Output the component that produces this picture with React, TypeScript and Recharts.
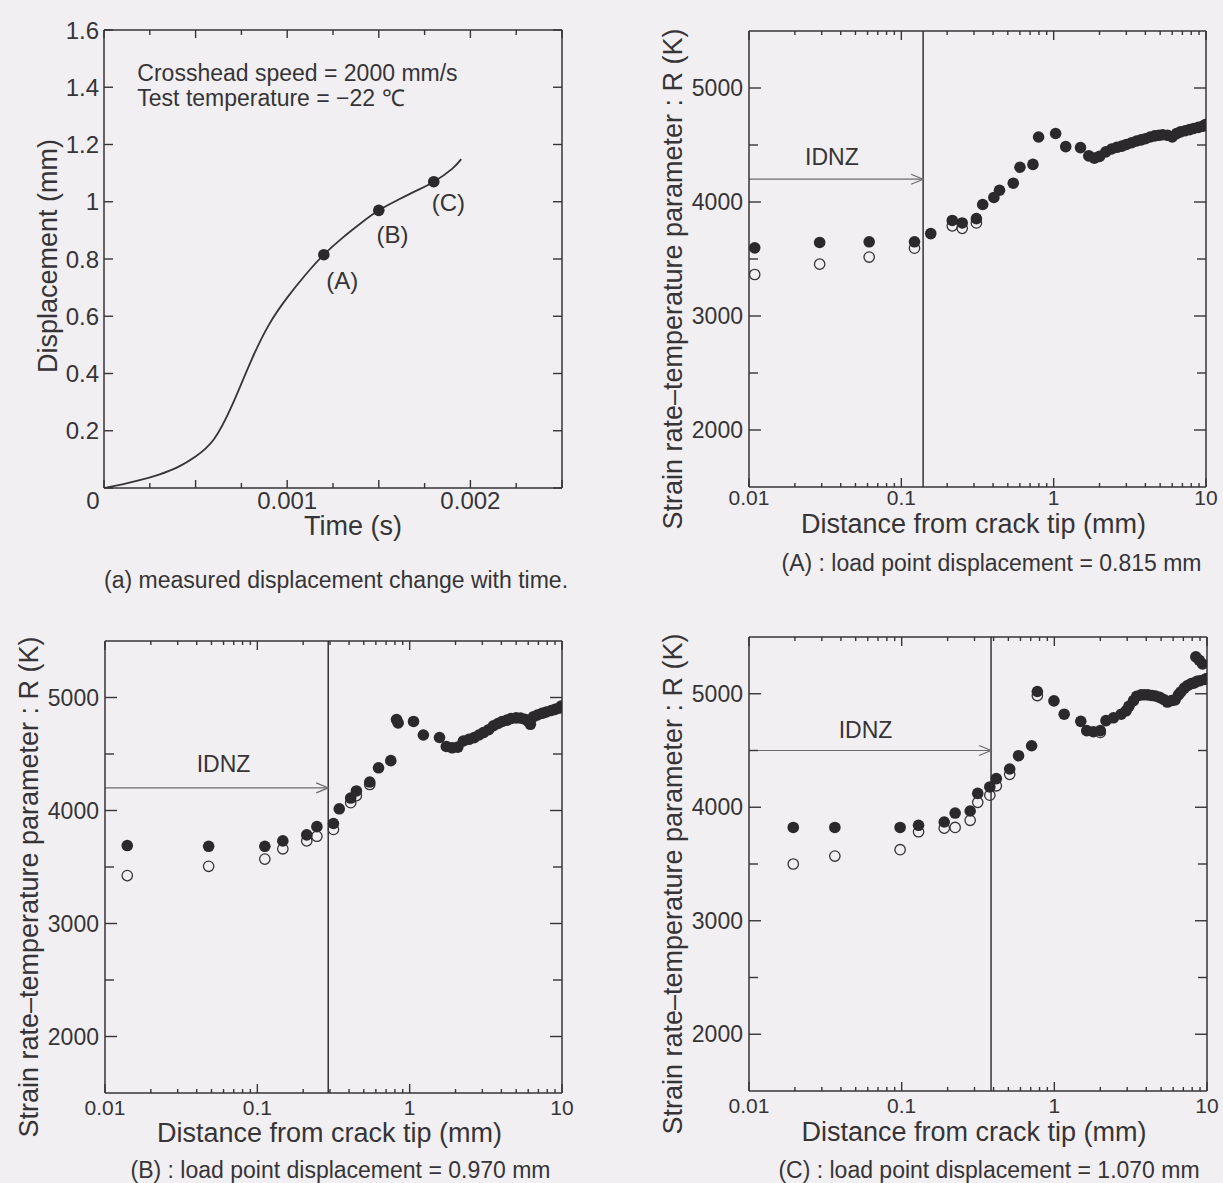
import React from 'react';
import {
  ComposedChart,
  ScatterChart,
  Scatter,
  Line,
  XAxis,
  YAxis,
  ReferenceLine,
  ReferenceDot,
} from 'recharts';

const INK = '#363436';
const DOT = '#2b292b';
const ARROW = '#6c6a6c';
const PAGE = '#f1eff2';
const FONT = '"Liberation Sans", Arial, Helvetica, sans-serif';

// (a) measured load point displacement against time
const timeSec = [0, 0.0001, 0.0002, 0.0003, 0.0004, 0.0005, 0.0006, 0.0007, 0.0008, 0.0009, 0.001, 0.0011, 0.0012, 0.0013, 0.0014, 0.0015, 0.0016, 0.0017, 0.0018, 0.0019, 0.00195];
const dispMm = [0, 0.013, 0.028, 0.047, 0.072, 0.11, 0.17, 0.29, 0.44, 0.57, 0.665, 0.745, 0.815, 0.873, 0.924, 0.97, 1.005, 1.037, 1.07, 1.115, 1.149];
const markNames = ['(A)', '(B)', '(C)'];
const markTime = [0.0012, 0.0015, 0.0018];
const markDisp = [0.815, 0.97, 1.07];
const markLabelTime = [0.0013, 0.001575, 0.00188];
const markLabelDisp = [0.725, 0.886, 0.999];
const notes = ['Crosshead speed = 2000 mm/s', 'Test temperature = \u221222 \u2103'];
const noteTime = 0.000182;
const noteDisp = [1.451, 1.362];

const timeTicks = [0, 0.00025, 0.0005, 0.00075, 0.001, 0.00125, 0.0015, 0.00175, 0.002, 0.00225, 0.0025];
const timeMajor = [0, 0.0005, 0.001, 0.0015, 0.002, 0.0025];
const timeLabels = [0, 0.001, 0.002];
const dispTicks = [0, 0.2, 0.4, 0.6, 0.8, 1, 1.2, 1.4, 1.6];

// R profiles ahead of the crack tip
const distTicks = [
  0.01, 0.02, 0.03, 0.04, 0.05, 0.06, 0.07, 0.08, 0.09,
  0.1, 0.2, 0.3, 0.4, 0.5, 0.6, 0.7, 0.8, 0.9,
  1, 2, 3, 4, 5, 6, 7, 8, 9, 10,
];
const rTicks = [2000, 2500, 3000, 3500, 4000, 4500, 5000];
const rLabels = [2000, 3000, 4000, 5000];

// (A) 0.815 mm
const distA = [0.0109, 0.0291, 0.0615, 0.122, 0.156, 0.216, 0.251, 0.311, 0.342, 0.405, 0.441, 0.543, 0.601, 0.731, 0.796, 1.03, 1.2, 1.5, 1.7, 1.85, 2.0, 2.2, 2.4, 2.6, 2.8, 3.0, 3.25, 3.5, 3.75, 4.0, 4.3, 4.6, 4.9, 5.2, 5.6, 6.0, 6.4, 6.8, 7.3, 7.8, 8.3, 8.9, 9.5, 9.9];
const rFilledA = [3598, 3645, 3651, 3651, 3723, 3838, 3816, 3854, 3978, 4040, 4103, 4165, 4305, 4330, 4570, 4601, 4486, 4477, 4405, 4385, 4400, 4440, 4465, 4480, 4490, 4505, 4520, 4535, 4545, 4555, 4570, 4580, 4585, 4590, 4585, 4570, 4600, 4615, 4625, 4635, 4645, 4655, 4665, 4680];
const openDistA = [0.0109, 0.0291, 0.0615, 0.122, 0.216, 0.251, 0.311];
const rOpenA = [3364, 3455, 3517, 3595, 3791, 3769, 3816];

// (B) 0.970 mm
const distB = [0.014, 0.0479, 0.112, 0.147, 0.211, 0.246, 0.316, 0.345, 0.41, 0.447, 0.547, 0.625, 0.752, 0.82, 0.84, 1.06, 1.23, 1.57, 1.74, 1.9, 2.07, 2.25, 2.45, 2.65, 2.85, 3.05, 3.3, 3.55, 3.8, 4.05, 4.35, 4.65, 5.0, 5.35, 5.7, 6.0, 6.2, 6.5, 6.9, 7.4, 7.9, 8.5, 9.0, 9.5, 9.9];
const rFilledB = [3690, 3683, 3683, 3731, 3784, 3857, 3885, 4015, 4110, 4173, 4252, 4378, 4441, 4805, 4775, 4788, 4668, 4646, 4567, 4555, 4561, 4615, 4630, 4645, 4668, 4690, 4715, 4750, 4770, 4788, 4800, 4814, 4820, 4818, 4808, 4790, 4763, 4830, 4845, 4860, 4872, 4885, 4895, 4905, 4925];
const openDistB = [0.014, 0.0479, 0.112, 0.147, 0.211, 0.246, 0.316, 0.41, 0.447, 0.547];
const rOpenB = [3424, 3506, 3570, 3661, 3731, 3772, 3832, 4069, 4132, 4230];

// (C) 1.070 mm
const distC = [0.0195, 0.0365, 0.0977, 0.129, 0.19, 0.224, 0.281, 0.315, 0.378, 0.417, 0.51, 0.583, 0.71, 0.774, 0.994, 1.16, 1.49, 1.63, 1.8, 2.0, 2.18, 2.44, 2.74, 2.95, 3.08, 3.3, 3.46, 3.7, 3.88, 4.1, 4.36, 4.6, 4.9, 5.2, 5.5, 5.85, 6.18, 6.5, 6.74, 7.1, 7.48, 7.9, 8.26, 8.6, 9.0, 9.66, 9.95, 8.45, 8.9, 9.35];
const rFilledC = [3822, 3822, 3822, 3841, 3870, 3949, 3967, 4122, 4179, 4252, 4337, 4454, 4542, 5020, 4937, 4820, 4757, 4675, 4665, 4675, 4763, 4788, 4820, 4850, 4889, 4940, 4978, 4990, 4991, 4990, 4984, 4980, 4968, 4950, 4927, 4940, 4946, 4990, 5016, 5050, 5073, 5090, 5095, 5110, 5115, 5126, 5135, 5325, 5295, 5262];
const openDistC = [0.0195, 0.0365, 0.0977, 0.129, 0.19, 0.224, 0.281, 0.315, 0.378, 0.417, 0.51, 0.774, 2.0];
const rOpenC = [3500, 3570, 3626, 3784, 3816, 3822, 3885, 4043, 4106, 4189, 4290, 4984, 4659];

type Side = 'bottom' | 'top' | 'left' | 'right';

interface TickSpec {
  side: Side;
  isMajor: (v: number) => boolean;
  text?: (v: number) => string;
  long: number;
  short: number;
  gap?: number;
  zeroShift?: number;
  fontSize?: number;
}

// tickSize/tickMargin are 0, so x/y arrive on the axis line itself
const makeTick = (s: TickSpec) => (props: any) => {
  const { x, y, payload } = props;
  const v = payload.value as number;
  const len = s.isMajor(v) ? s.long : s.short;
  const lbl = s.text ? s.text(v) : '';
  let l = [x, y, x, y];
  if (s.side === 'bottom') l = [x, y, x, y - len];
  if (s.side === 'top') l = [x, y, x, y + len];
  if (s.side === 'left') l = [x, y, x + len, y];
  if (s.side === 'right') l = [x, y, x - len, y];
  return (
    <g>
      <line x1={l[0]} y1={l[1]} x2={l[2]} y2={l[3]} stroke={INK} strokeWidth={1.4} />
      {lbl && s.side === 'bottom' && (
        <text
          x={x + (v === 0 ? s.zeroShift ?? 0 : 0)}
          y={y + (s.gap ?? 12)}
          textAnchor="middle"
          dominantBaseline="central"
          fontSize={s.fontSize ?? 24}
          fill={INK}
        >
          {lbl}
        </text>
      )}
      {lbl && s.side === 'left' && (
        <text
          x={x - (s.gap ?? 5)}
          y={y}
          textAnchor="end"
          dominantBaseline="central"
          fontSize={s.fontSize ?? 24}
          fill={INK}
        >
          {lbl}
        </text>
      )}
    </g>
  );
};

const axisStyle = { stroke: INK, strokeWidth: 1.5 };
const isDecade = (v: number) => Math.abs(Math.log10(v) - Math.round(Math.log10(v))) < 1e-6;
const inList = (list: number[]) => (v: number) => list.some((u) => Math.abs(u - v) < 1e-9);

const FilledDot = (p: any) => <circle cx={p.cx} cy={p.cy} r={5.8} fill={DOT} />;
const OpenDot = (p: any) => (
  <circle cx={p.cx} cy={p.cy} r={5.2} fill="none" stroke={INK} strokeWidth={1.3} />
);

const Arrow = (p: any) => {
  const { x1, y1, x2, y2 } = p;
  return (
    <g>
      <line x1={x1} y1={y1} x2={x2} y2={y2} stroke={ARROW} strokeWidth={1.2} />
      <polyline
        points={`${x2 - 12},${y2 - 5} ${x2},${y2} ${x2 - 12},${y2 + 5}`}
        fill="none"
        stroke={ARROW}
        strokeWidth={1.2}
      />
    </g>
  );
};

function DisplacementPanel() {
  const left = 104;
  const top = 30;
  const w = 458;
  const h = 458;
  const plotB = 20 + h;
  const cx = 100 + w / 2;
  const curve = timeSec.map((t, i) => ({ t, d: dispMm[i] }));
  const marks = markTime.map((t, i) => ({ t, d: markDisp[i] }));

  const xTitle = () => (
    <g fill={INK}>
      <text x={cx + 20} y={plotB + 38} textAnchor="middle" dominantBaseline="central" fontSize={27}>
        Time (s)
      </text>
      <text x={cx + 3} y={plotB + 92} textAnchor="middle" dominantBaseline="central" fontSize={23}>
        (a) measured displacement change with time.
      </text>
    </g>
  );
  const yTitle = () => (
    <text
      transform={`translate(${100 - 56}, ${20 + h / 2 - 3}) rotate(-90)`}
      textAnchor="middle"
      dominantBaseline="central"
      fontSize={27}
      fill={INK}
    >
      Displacement (mm)
    </text>
  );

  return (
    <div style={{ position: 'absolute', left: left - 100, top: top - 20 }}>
      <ComposedChart width={w + 115} height={h + 140} margin={{ top: 10, right: 5, bottom: 80, left: 40 }}>
        <XAxis
          xAxisId="b"
          dataKey="t"
          type="number"
          domain={[0, 0.0025]}
          allowDataOverflow
          ticks={timeTicks}
          interval={0}
          height={40}
          tickSize={0}
          tickMargin={0}
          tickLine={false}
          axisLine={axisStyle}
          tick={makeTick({
            side: 'bottom',
            isMajor: inList(timeMajor),
            text: (v) => (inList(timeLabels)(v) ? String(v) : ''),
            long: 8,
            short: 5,
            gap: 12,
            zeroShift: -11,
          })}
          label={xTitle}
        />
        <XAxis
          xAxisId="t"
          orientation="top"
          dataKey="t"
          type="number"
          domain={[0, 0.0025]}
          allowDataOverflow
          ticks={timeTicks}
          interval={0}
          height={10}
          tickSize={0}
          tickMargin={0}
          tickLine={false}
          axisLine={axisStyle}
          tick={makeTick({ side: 'top', isMajor: inList(timeMajor), long: 8, short: 5 })}
        />
        <YAxis
          yAxisId="l"
          dataKey="d"
          type="number"
          domain={[0, 1.6]}
          allowDataOverflow
          ticks={dispTicks}
          interval={0}
          width={60}
          tickSize={0}
          tickMargin={0}
          tickLine={false}
          axisLine={axisStyle}
          tick={makeTick({
            side: 'left',
            isMajor: () => true,
            text: (v) => (v === 0 ? '' : String(v)),
            long: 9,
            short: 9,
            gap: 5,
          })}
          label={yTitle}
        />
        <YAxis
          yAxisId="r"
          orientation="right"
          dataKey="d"
          type="number"
          domain={[0, 1.6]}
          allowDataOverflow
          ticks={dispTicks}
          interval={0}
          width={10}
          tickSize={0}
          tickMargin={0}
          tickLine={false}
          axisLine={axisStyle}
          tick={makeTick({ side: 'right', isMajor: () => true, long: 9, short: 9 })}
        />
        {notes.map((n, i) => (
          <ReferenceDot
            key={n}
            xAxisId="b"
            yAxisId="l"
            x={noteTime}
            y={noteDisp[i]}
            r={0}
            fill="none"
            stroke="none"
            label={{ value: n, position: 'right', offset: 0, fontSize: 23, fill: INK }}
          />
        ))}
        {markNames.map((n, i) => (
          <ReferenceDot
            key={n}
            xAxisId="b"
            yAxisId="l"
            x={markLabelTime[i]}
            y={markLabelDisp[i]}
            r={0}
            fill="none"
            stroke="none"
            label={{ value: n, position: 'center', fontSize: 24, fill: INK }}
          />
        ))}
        <Line
          xAxisId="b"
          yAxisId="l"
          data={curve}
          dataKey="d"
          type="natural"
          stroke={INK}
          strokeWidth={1.8}
          dot={false}
          activeDot={false}
          isAnimationActive={false}
        />
        <Scatter xAxisId="t" yAxisId="r" data={marks} dataKey="d" shape={FilledDot} isAnimationActive={false} />
      </ComposedChart>
    </div>
  );
}

interface RPanelProps {
  left: number;
  top: number;
  w: number;
  h: number;
  dist: number[];
  filled: number[];
  openDist: number[];
  open: number[];
  boundary: number;
  arrowR: number;
  idnzX: number;
  idnzR: number;
  caption: string;
  tickGap: number;
  titleGap: number;
  captionGap: number;
  captionShift: number;
}

function RPanel(p: RPanelProps) {
  const filledPts = p.dist.map((x, i) => ({ x, r: p.filled[i] }));
  const openPts = p.openDist.map((x, i) => ({ x, r: p.open[i] }));
  const plotB = 20 + p.h;
  const cx = 100 + p.w / 2;

  const xTitle = () => (
    <g fill={INK}>
      <text x={cx - 4} y={plotB + p.titleGap} textAnchor="middle" dominantBaseline="central" fontSize={27}>
        Distance from crack tip (mm)
      </text>
      <text
        x={cx + p.captionShift}
        y={plotB + p.captionGap}
        textAnchor="middle"
        dominantBaseline="central"
        fontSize={23}
      >
        {p.caption}
      </text>
    </g>
  );
  const yTitle = () => (
    <text
      transform={`translate(${100 - 76}, ${20 + p.h / 2 + 20}) rotate(-90)`}
      textAnchor="middle"
      dominantBaseline="central"
      fontSize={27}
      fill={INK}
    >
      Strain rate{'\u2013'}temperature parameter : R (K)
    </text>
  );

  const xShared = {
    dataKey: 'x',
    type: 'number' as const,
    scale: 'log' as const,
    domain: [0.01, 10],
    allowDataOverflow: true,
    ticks: distTicks,
    interval: 0,
    tickSize: 0,
    tickMargin: 0,
    tickLine: false,
    axisLine: axisStyle,
  };
  const yShared = {
    dataKey: 'r',
    type: 'number' as const,
    domain: [1500, 5500],
    allowDataOverflow: true,
    ticks: rTicks,
    interval: 0,
    tickSize: 0,
    tickMargin: 0,
    tickLine: false,
    axisLine: axisStyle,
  };

  return (
    <div style={{ position: 'absolute', left: p.left - 100, top: p.top - 20 }}>
      <ScatterChart width={p.w + 115} height={p.h + 140} margin={{ top: 10, right: 5, bottom: 80, left: 40 }}>
        <XAxis
          xAxisId="b"
          {...xShared}
          height={40}
          tick={makeTick({
            side: 'bottom',
            isMajor: isDecade,
            text: (v) => (isDecade(v) ? String(v) : ''),
            long: 9,
            short: 4,
            gap: p.tickGap,
            fontSize: 21,
          })}
          label={xTitle}
        />
        <XAxis
          xAxisId="t"
          orientation="top"
          {...xShared}
          height={10}
          tick={makeTick({ side: 'top', isMajor: isDecade, long: 9, short: 4 })}
        />
        <YAxis
          yAxisId="l"
          {...yShared}
          width={60}
          tick={makeTick({
            side: 'left',
            isMajor: inList(rLabels),
            text: (v) => (inList(rLabels)(v) ? String(v) : ''),
            long: 12,
            short: 9,
            gap: 6,
            fontSize: 23,
          })}
          label={yTitle}
        />
        <YAxis
          yAxisId="rt"
          orientation="right"
          {...yShared}
          width={10}
          tick={makeTick({ side: 'right', isMajor: inList(rLabels), long: 12, short: 9 })}
        />
        <ReferenceLine xAxisId="b" yAxisId="l" x={p.boundary} stroke={INK} strokeWidth={1.5} />
        <ReferenceLine
          xAxisId="b"
          yAxisId="l"
          segment={[
            { x: 0.01, y: p.arrowR },
            { x: p.boundary, y: p.arrowR },
          ]}
          ifOverflow="visible"
          shape={Arrow}
        />
        <ReferenceDot
          xAxisId="b"
          yAxisId="l"
          x={p.idnzX}
          y={p.idnzR}
          r={0}
          fill="none"
          stroke="none"
          label={{ value: 'IDNZ', position: 'center', fontSize: 23, fill: INK }}
        />
        <Scatter xAxisId="t" yAxisId="rt" data={openPts} shape={OpenDot} isAnimationActive={false} />
        <Scatter xAxisId="b" yAxisId="l" data={filledPts} shape={FilledDot} isAnimationActive={false} />
      </ScatterChart>
    </div>
  );
}

export default function App() {
  return (
    <div
      style={{
        position: 'absolute',
        left: 0,
        top: 0,
        width: 1223,
        height: 1183,
        overflow: 'hidden',
        background: PAGE,
        fontFamily: FONT,
      }}
    >
      <DisplacementPanel />
      <RPanel
        left={749}
        top={31}
        w={457}
        h={456}
        dist={distA}
        filled={rFilledA}
        openDist={openDistA}
        open={rOpenA}
        boundary={0.139}
        arrowR={4200}
        idnzX={0.035}
        idnzR={4400}
        caption="(A) : load point displacement = 0.815 mm"
        tickGap={10}
        titleGap={37}
        captionGap={76}
        captionShift={14}
      />
      <RPanel
        left={105}
        top={641}
        w={457}
        h={452}
        dist={distB}
        filled={rFilledB}
        openDist={openDistB}
        open={rOpenB}
        boundary={0.292}
        arrowR={4200}
        idnzX={0.06}
        idnzR={4410}
        caption="(B) : load point displacement = 0.970 mm"
        tickGap={14}
        titleGap={40}
        captionGap={77}
        captionShift={7}
      />
      <RPanel
        left={749}
        top={637}
        w={458}
        h={454}
        dist={distC}
        filled={rFilledC}
        openDist={openDistC}
        open={rOpenC}
        boundary={0.385}
        arrowR={4500}
        idnzX={0.058}
        idnzR={4684}
        caption="(C) : load point displacement = 1.070 mm"
        tickGap={14}
        titleGap={41}
        captionGap={79}
        captionShift={11}
      />
    </div>
  );
}
